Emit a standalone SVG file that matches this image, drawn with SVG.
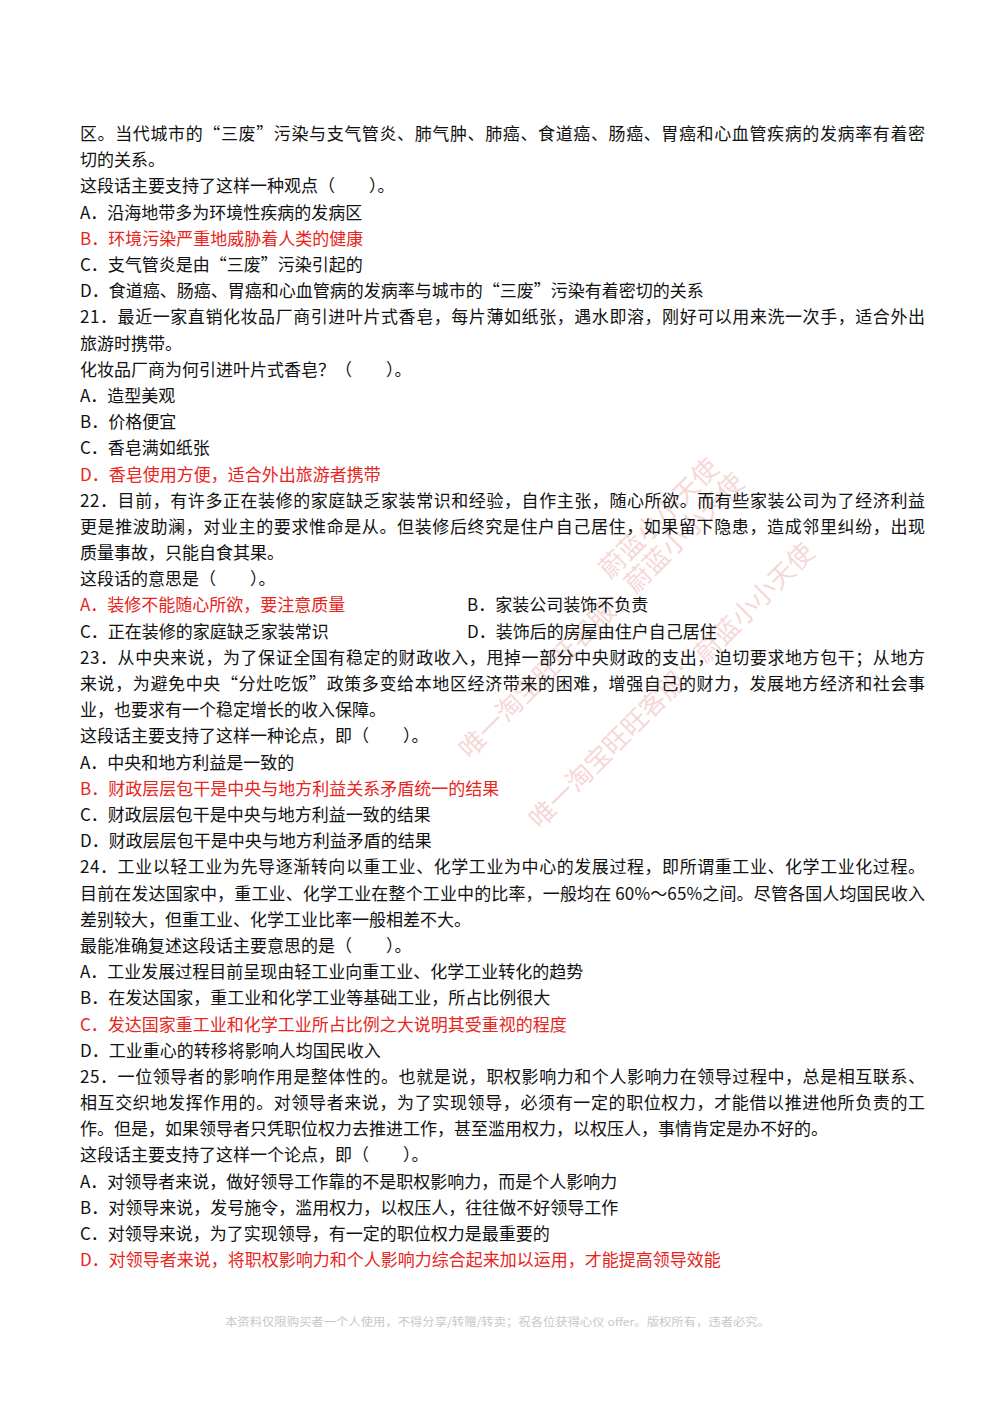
<svg xmlns="http://www.w3.org/2000/svg" width="1000" height="1414" viewBox="0 0 1000 1414">
<style>
text{font-family:"Noto Sans CJK SC","Noto Sans CJK SC",sans-serif;font-size:17px;fill:#111}
.r{fill:#e8241c}
.f{font-size:11px;fill:#c8c8c8}
.w{font-size:26px;fill:#f0b8b8;opacity:0.55}
</style>
<rect width="1000" height="1414" fill="#fff"/>
<g id="watermark">
<text class="w" transform="translate(470,760) rotate(-45)">唯一淘宝旺旺客服：蔚蓝小小天使</text>
<text class="w" transform="translate(540,830) rotate(-45)">唯一淘宝旺旺客服：蔚蓝小小天使</text>
<text class="w" transform="translate(610,580) rotate(-45)">蔚蓝小小天使</text>
</g>
<g id="text">
<text x="80" y="140" textLength="845" lengthAdjust="spacing">区。当代城市的“三废”污染与支气管炎、肺气肿、肺癌、食道癌、肠癌、胃癌和心血管疾病的发病率有着密</text>
<text x="80" y="166.2">切的关系。</text>
<text x="80" y="192.4">这段话主要支持了这样一种观点（　　）。</text>
<text x="80" y="218.6">A．沿海地带多为环境性疾病的发病区</text>
<text x="80" y="244.8" class="r">B．环境污染严重地威胁着人类的健康</text>
<text x="80" y="271">C．支气管炎是由“三废”污染引起的</text>
<text x="80" y="297.1">D．食道癌、肠癌、胃癌和心血管病的发病率与城市的“三废”污染有着密切的关系</text>
<text x="80" y="323.3" textLength="845" lengthAdjust="spacing">21．最近一家直销化妆品厂商引进叶片式香皂，每片薄如纸张，遇水即溶，刚好可以用来洗一次手，适合外出</text>
<text x="80" y="349.5">旅游时携带。</text>
<text x="80" y="375.7">化妆品厂商为何引进叶片式香皂？（　　）。</text>
<text x="80" y="401.9">A．造型美观</text>
<text x="80" y="428.1">B．价格便宜</text>
<text x="80" y="454.3">C．香皂满如纸张</text>
<text x="80" y="480.5" class="r">D．香皂使用方便，适合外出旅游者携带</text>
<text x="80" y="506.7" textLength="845" lengthAdjust="spacing">22．目前，有许多正在装修的家庭缺乏家装常识和经验，自作主张，随心所欲。而有些家装公司为了经济利益</text>
<text x="80" y="532.9" textLength="845" lengthAdjust="spacing">更是推波助澜，对业主的要求惟命是从。但装修后终究是住户自己居住，如果留下隐患，造成邻里纠纷，出现</text>
<text x="80" y="559">质量事故，只能自食其果。</text>
<text x="80" y="585.2">这段话的意思是（　　）。</text>
<text x="80" y="611.4" class="r">A．装修不能随心所欲，要注意质量</text>
<text x="467" y="611.4">B．家装公司装饰不负责</text>
<text x="80" y="637.6">C．正在装修的家庭缺乏家装常识</text>
<text x="467" y="637.6">D．装饰后的房屋由住户自己居住</text>
<text x="80" y="663.8" textLength="845" lengthAdjust="spacing">23．从中央来说，为了保证全国有稳定的财政收入，甩掉一部分中央财政的支出，迫切要求地方包干；从地方</text>
<text x="80" y="690" textLength="845" lengthAdjust="spacing">来说，为避免中央“分灶吃饭”政策多变给本地区经济带来的困难，增强自己的财力，发展地方经济和社会事</text>
<text x="80" y="716.2">业，也要求有一个稳定增长的收入保障。</text>
<text x="80" y="742.4">这段话主要支持了这样一种论点，即（　　）。</text>
<text x="80" y="768.6">A．中央和地方利益是一致的</text>
<text x="80" y="794.8" class="r">B．财政层层包干是中央与地方利益关系矛盾统一的结果</text>
<text x="80" y="821">C．财政层层包干是中央与地方利益一致的结果</text>
<text x="80" y="847.1">D．财政层层包干是中央与地方利益矛盾的结果</text>
<text x="80" y="873.3" textLength="845" lengthAdjust="spacing">24．工业以轻工业为先导逐渐转向以重工业、化学工业为中心的发展过程，即所谓重工业、化学工业化过程。</text>
<text x="80" y="899.5" textLength="845" lengthAdjust="spacing">目前在发达国家中，重工业、化学工业在整个工业中的比率，一般均在 60%～65%之间。尽管各国人均国民收入</text>
<text x="80" y="925.7">差别较大，但重工业、化学工业比率一般相差不大。</text>
<text x="80" y="951.9">最能准确复述这段话主要意思的是（　　）。</text>
<text x="80" y="978.1">A．工业发展过程目前呈现由轻工业向重工业、化学工业转化的趋势</text>
<text x="80" y="1004.3">B．在发达国家，重工业和化学工业等基础工业，所占比例很大</text>
<text x="80" y="1030.5" class="r">C．发达国家重工业和化学工业所占比例之大说明其受重视的程度</text>
<text x="80" y="1056.7">D．工业重心的转移将影响人均国民收入</text>
<text x="80" y="1082.9" textLength="845" lengthAdjust="spacing">25．一位领导者的影响作用是整体性的。也就是说，职权影响力和个人影响力在领导过程中，总是相互联系、</text>
<text x="80" y="1109" textLength="845" lengthAdjust="spacing">相互交织地发挥作用的。对领导者来说，为了实现领导，必须有一定的职位权力，才能借以推进他所负责的工</text>
<text x="80" y="1135.2">作。但是，如果领导者只凭职位权力去推进工作，甚至滥用权力，以权压人，事情肯定是办不好的。</text>
<text x="80" y="1161.4">这段话主要支持了这样一个论点，即（　　）。</text>
<text x="80" y="1187.6">A．对领导者来说，做好领导工作靠的不是职权影响力，而是个人影响力</text>
<text x="80" y="1213.8">B．对领导来说，发号施令，滥用权力，以权压人，往往做不好领导工作</text>
<text x="80" y="1240">C．对领导来说，为了实现领导，有一定的职位权力是最重要的</text>
<text x="80" y="1266.2" class="r">D．对领导者来说，将职权影响力和个人影响力综合起来加以运用，才能提高领导效能</text>
<text x="225" y="1326" class="f" textLength="545" lengthAdjust="spacingAndGlyphs">本资料仅限购买者一个人使用，不得分享/转赠/转卖；祝各位获得心仪 offer。版权所有，违者必究。</text>
</g>
</svg>
